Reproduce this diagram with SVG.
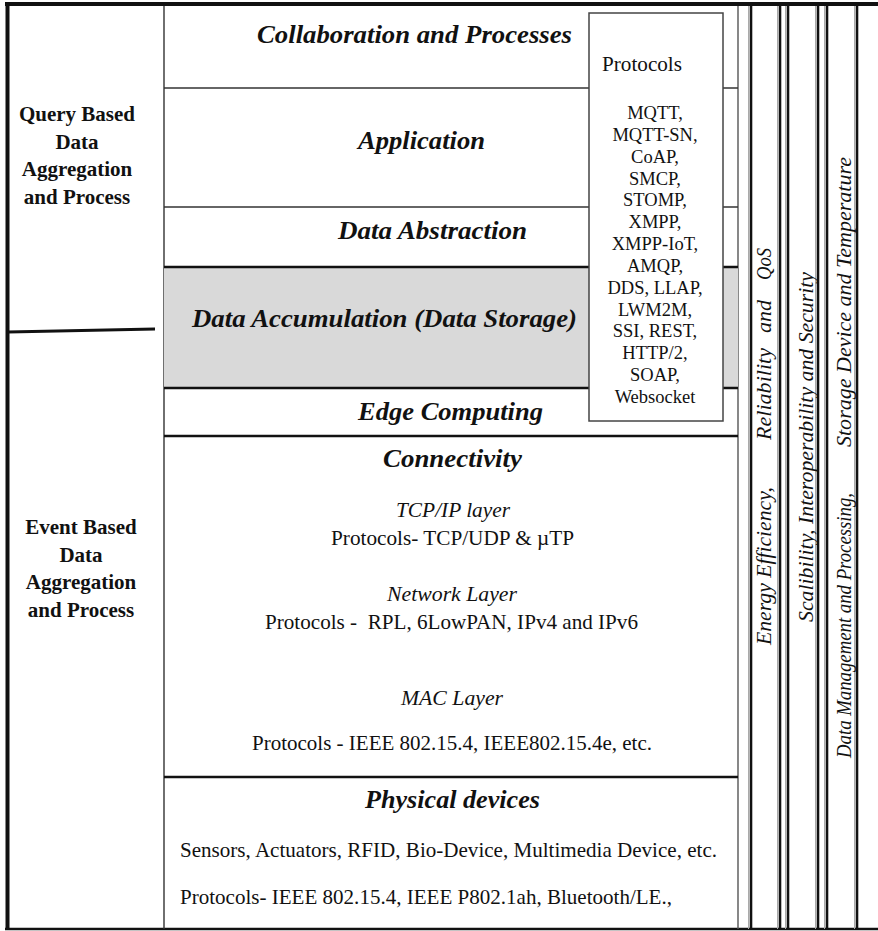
<svg xmlns="http://www.w3.org/2000/svg" width="878" height="931" viewBox="0 0 878 931">
<style>
text{font-family:"Liberation Serif","Times New Roman",serif;fill:#111}
.hdr{font-weight:bold;font-style:italic;font-size:25px}
.sub{font-style:italic;font-size:21px}
.reg{font-size:21px}
.lbl{font-weight:bold;font-size:21px;text-anchor:middle}
.pl{font-size:18.5px;text-anchor:middle}
.vert{font-style:italic;font-size:20px}
.thick{stroke:#111;stroke-width:2.5;fill:none}
.thin{stroke:#333;stroke-width:1.4;fill:none}
.col{stroke:#111;stroke-width:2.6;fill:none}
.shadow{stroke:#aaa;stroke-width:1;fill:none}
</style>
<rect x="0" y="0" width="878" height="931" fill="#fff"/>

<g id="frame">
  <line class="thick" x1="5" y1="4" x2="878" y2="4" style="stroke-width:4"/>
  <line class="thick" x1="7.5" y1="2" x2="7.5" y2="930" style="stroke-width:4"/>
  <line class="thick" x1="5" y1="929" x2="878" y2="929"/>
  <line class="thin" x1="164" y1="6" x2="164" y2="929"/>
  <line class="thin" x1="738" y1="6" x2="738" y2="929" style="stroke:#555"/>
  <line class="thick" x1="8" y1="332" x2="155" y2="329" style="stroke-width:3"/>
</g>

<g id="query-based">
  <text class="lbl" x="77" y="121">Query Based</text>
  <text class="lbl" x="77" y="149">Data</text>
  <text class="lbl" x="77" y="176">Aggregation</text>
  <text class="lbl" x="77" y="204">and Process</text>
</g>
<g id="event-based">
  <text class="lbl" x="81" y="534">Event Based</text>
  <text class="lbl" x="81" y="562">Data</text>
  <text class="lbl" x="81" y="589">Aggregation</text>
  <text class="lbl" x="81" y="617">and Process</text>
</g>

<g id="data-accumulation">
  <rect x="164" y="267" width="574" height="121" fill="#d9d9d9"/>
  <text class="hdr" x="192" y="327" textLength="385" lengthAdjust="spacingAndGlyphs">Data Accumulation (Data Storage)</text>
</g>

<g id="layer-lines">
  <line class="thin" x1="164" y1="88" x2="738" y2="88"/>
  <line class="thin" x1="164" y1="207" x2="738" y2="207"/>
  <line class="thick" x1="164" y1="267" x2="738" y2="267"/>
  <line class="thick" x1="164" y1="388" x2="738" y2="388"/>
  <line class="thick" x1="164" y1="436" x2="738" y2="436"/>
  <line class="thick" x1="164" y1="777" x2="738" y2="777"/>
</g>

<g id="collaboration">
  <text class="hdr" x="257" y="43" textLength="315" lengthAdjust="spacingAndGlyphs">Collaboration and Processes</text>
</g>
<g id="application">
  <text class="hdr" x="358" y="149" textLength="127" lengthAdjust="spacingAndGlyphs">Application</text>
</g>
<g id="data-abstraction">
  <text class="hdr" x="338" y="239" textLength="189" lengthAdjust="spacingAndGlyphs">Data Abstraction</text>
</g>
<g id="edge-computing">
  <text class="hdr" x="358" y="420" textLength="185" lengthAdjust="spacingAndGlyphs">Edge Computing</text>
</g>

<g id="connectivity">
  <text class="hdr" x="383" y="467" textLength="139" lengthAdjust="spacingAndGlyphs">Connectivity</text>
  <text class="sub" x="396" y="517" textLength="114" lengthAdjust="spacingAndGlyphs">TCP/IP layer</text>
  <text class="reg" x="331" y="545" textLength="243" lengthAdjust="spacingAndGlyphs">Protocols- TCP/UDP &amp; µTP</text>
  <text class="sub" x="387" y="601" textLength="130" lengthAdjust="spacingAndGlyphs">Network Layer</text>
  <text class="reg" x="265" y="629" textLength="373" lengthAdjust="spacingAndGlyphs" xml:space="preserve">Protocols -  RPL, 6LowPAN, IPv4 and IPv6</text>
  <text class="sub" x="401" y="705" textLength="102" lengthAdjust="spacingAndGlyphs">MAC Layer</text>
  <text class="reg" x="252" y="750" textLength="400" lengthAdjust="spacingAndGlyphs">Protocols - IEEE 802.15.4, IEEE802.15.4e, etc.</text>
</g>

<g id="physical-devices">
  <text class="hdr" x="365" y="808" textLength="175" lengthAdjust="spacingAndGlyphs">Physical devices</text>
  <text class="reg" x="180" y="857" textLength="537" lengthAdjust="spacingAndGlyphs">Sensors, Actuators, RFID, Bio-Device, Multimedia Device, etc.</text>
  <text class="reg" x="180" y="904" textLength="492" lengthAdjust="spacingAndGlyphs">Protocols- IEEE 802.15.4, IEEE P802.1ah, Bluetooth/LE.,</text>
</g>

<g id="protocols">
  <rect x="589" y="13" width="134" height="408" fill="#fff" stroke="#444" stroke-width="1.5"/>
  <text class="reg" x="602" y="71" textLength="80" lengthAdjust="spacingAndGlyphs">Protocols</text>
  <text class="pl" x="655" y="119">MQTT,</text>
  <text class="pl" x="655" y="141">MQTT-SN,</text>
  <text class="pl" x="655" y="163">CoAP,</text>
  <text class="pl" x="655" y="185">SMCP,</text>
  <text class="pl" x="655" y="206">STOMP,</text>
  <text class="pl" x="655" y="228">XMPP,</text>
  <text class="pl" x="655" y="250">XMPP-IoT,</text>
  <text class="pl" x="655" y="272">AMQP,</text>
  <text class="pl" x="655" y="294">DDS, LLAP,</text>
  <text class="pl" x="655" y="316">LWM2M,</text>
  <text class="pl" x="655" y="337">SSI, REST,</text>
  <text class="pl" x="655" y="359">HTTP/2,</text>
  <text class="pl" x="655" y="381">SOAP,</text>
  <text class="pl" x="655" y="403">Websocket</text>
</g>

<g id="column-lines">
  <line class="shadow" x1="748.5" y1="6" x2="748.5" y2="929"/>
  <line class="shadow" x1="777.5" y1="6" x2="777.5" y2="929"/>
  <line class="shadow" x1="785.5" y1="6" x2="785.5" y2="929"/>
  <line class="shadow" x1="815.5" y1="6" x2="815.5" y2="929"/>
  <line class="shadow" x1="824.5" y1="6" x2="824.5" y2="929"/>
  <line class="shadow" x1="854.5" y1="6" x2="854.5" y2="929"/>
  <line class="col" x1="751" y1="4" x2="751" y2="929"/>
  <line class="col" x1="780" y1="4" x2="780" y2="929"/>
  <line class="col" x1="788" y1="4" x2="788" y2="929"/>
  <line class="col" x1="818" y1="4" x2="818" y2="929"/>
  <line class="col" x1="827" y1="4" x2="827" y2="929"/>
  <line class="col" x1="857" y1="4" x2="857" y2="929"/>
</g>

<g id="energy-column" transform="translate(771,645) rotate(-90)">
  <text class="vert" x="0" y="0" textLength="158" lengthAdjust="spacingAndGlyphs">Energy Efficiency,</text>
  <text class="vert" x="205" y="0" textLength="92" lengthAdjust="spacingAndGlyphs">Reliability</text>
  <text class="vert" x="312" y="0" textLength="33" lengthAdjust="spacingAndGlyphs">and</text>
  <text class="vert" x="365" y="0" textLength="32" lengthAdjust="spacingAndGlyphs">QoS</text>
</g>
<g id="scalability-column" transform="translate(813,622) rotate(-90)">
  <text class="vert" x="0" y="0" textLength="350" lengthAdjust="spacingAndGlyphs">Scalibility, Interoperability and Security</text>
</g>
<g id="data-management-column" transform="translate(851,758) rotate(-90)">
  <text class="vert" x="0" y="0" textLength="265" lengthAdjust="spacingAndGlyphs">Data Management and Processing,</text>
  <text class="vert" x="311" y="0" textLength="290" lengthAdjust="spacingAndGlyphs">Storage Device and Temperature</text>
</g>
</svg>
